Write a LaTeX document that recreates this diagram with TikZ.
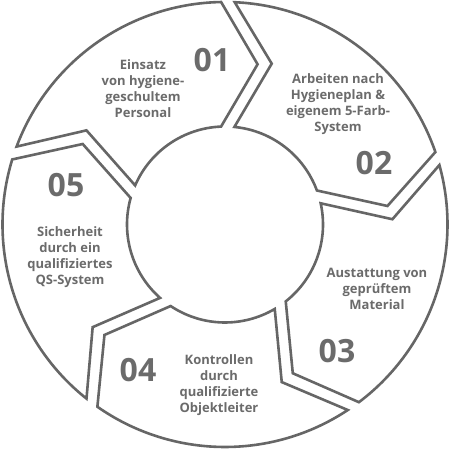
\documentclass[tikz,border=0pt]{standalone}
\usepackage{fontspec}
\setmainfont{Open Sans}
\definecolor{lc}{HTML}{666666}
\definecolor{tc}{HTML}{6B6B6B}
\begin{document}
\begin{tikzpicture}[x=1pt,y=1pt,
  seg/.style={draw=lc, line width=2.6pt, line join=miter, fill=white},
  num/.style={text=tc, font=\fontsize{32}{32}\selectfont\bfseries, inner sep=0pt},
  lbl/.style={text=tc, font=\fontsize{13}{16}\selectfont\bfseries, align=center, inner sep=0pt}]
\useasboundingbox (0,0) rectangle (450,450);
\coordinate (C) at (225,225.5);
\begin{scope}[shift={(C)}]
\foreach \k in {0,...,4}{
  \pgfmathsetmacro\lo{91-72*\k}
  \pgfmathsetmacro\to{159.5-72*\k}
  \pgfmathsetmacro\tn{145.8-72*\k}
  \pgfmathsetmacro\ti{156.5-72*\k}
  \pgfmathsetmacro\li{92.3-72*\k}
  \pgfmathsetmacro\lt{78.5-72*\k}
  \draw[seg] (\lo:222.5) arc[start angle=\lo, end angle=\to, radius=222.5]
     -- (\tn:167.5) -- (\ti:98) arc[start angle=\ti, end angle=\li, radius=98]
     -- (\lt:163.5) -- cycle;
}
\end{scope}
\node[num] (n1) at (212,390) {01};
\node[num] (n2) at (374,287) {02};
\node[num] (n3) at (337,99) {03};
\node[num] (n4) at (138,80) {04};
\node[num] (n5) at (66,265) {05};
\node[lbl] (t1) at (143,361) {Einsatz\\von hygiene-\\geschultem\\Personal};
\node[lbl] (t2) at (338,346) {Arbeiten nach\\Hygieneplan \&\\eigenem 5-Farb-\\System};
\node[lbl] (t3) at (377,161.5) {Austattung von\\geprüftem\\Material};
\node[lbl] (t4) at (219,64.5) {Kontrollen\\durch\\qualifizierte\\Objektleiter};
\node[lbl] (t5) at (70,192.5) {Sicherheit\\durch ein\\qualifiziertes\\QS-System};
\end{tikzpicture}
\end{document}
